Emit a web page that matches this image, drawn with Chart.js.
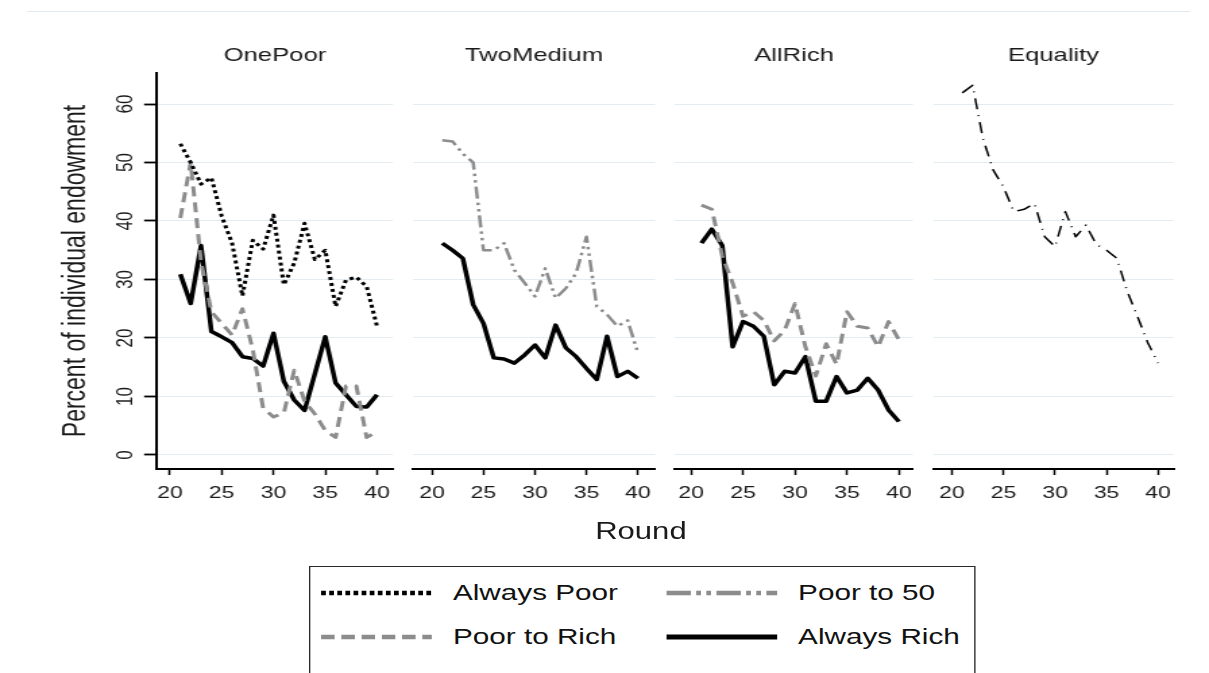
<!DOCTYPE html>
<html>
<head>
<meta charset="utf-8">
<script src="https://cdn.jsdelivr.net/npm/chart.js@4.4.1/dist/chart.umd.min.js"></script>
<style>
  html, body { margin: 0; padding: 0; background: #ffffff; overflow: hidden; width: 1209px; height: 673px; }
  #stage { position: absolute; left: 0; top: 0; width: 896px; height: 673px;
           transform: scaleX(1.3493); transform-origin: 0 0;
           font-family: "Liberation Sans", Arial, sans-serif; color: #111; }
  #stage canvas { position: absolute; top: 0; }
  #frame { position: absolute; left: 20px; top: 11px; width: 862px; height: 0; border-top: 1px solid #e0eaee; }
  #xtitle { position: absolute; left: 375px; width: 200px; top: 517px; text-align: center;
            font-size: 23px; line-height: 28px; color: #1a1a1a; }
  #legend { position: absolute; left: 229px; top: 566px; width: 494px; height: 130px;
            border: 1.5px solid #2a2a2a; box-sizing: border-box; background: #fff; }
  .item { position: absolute; height: 26px; white-space: nowrap; }
  .item svg { position: absolute; left: 0; top: 0; overflow: visible; }
  .item span { position: absolute; top: 0; font-size: 22px; line-height: 26px; color: #111; }
</style>
</head>
<body>
<div id="stage">
  <div id="frame"></div>
  <canvas id="p0"></canvas>
  <canvas id="p1"></canvas>
  <canvas id="p2"></canvas>
  <canvas id="p3"></canvas>
  <div id="xtitle">Round</div>
  <div id="legend"></div>
</div>
<script>
// ---------------- DATA ----------------
const rounds = [21, 22, 23, 24, 25, 26, 27, 28, 29, 30, 31, 32, 33, 34, 35, 36, 37, 38, 39, 40];
const xTickValues = [20, 25, 30, 35, 40];
const yTickValues = [0, 10, 20, 30, 40, 50, 60];
const panelTitles = ['OnePoor', 'TwoMedium', 'AllRich', 'Equality'];
const seriesNames = ['Always Poor', 'Poor to 50', 'Poor to Rich', 'Always Rich'];
const xAxisTitle = 'Round';
const yAxisTitle = 'Percent of individual endowment';

const onePoorAlwaysPoor = [53.2, 50.0, 46.3, 47.4, 40.8, 36.2, 27.2, 36.7, 35.2, 41.0, 29.1, 32.8, 39.6, 33.4, 35.0, 25.4, 29.9, 30.4, 28.8, 22.0];
const onePoorPoorToRich = [40.5, 50.0, 33.0, 24.5, 22.5, 20.5, 25.0, 18.0, 8.0, 6.5, 7.2, 14.5, 9.2, 7.0, 4.2, 3.0, 11.8, 11.8, 3.0, 4.0];
const onePoorAlwaysRich = [30.9, 25.9, 35.8, 21.1, 20.2, 19.2, 16.8, 16.5, 15.2, 20.8, 12.6, 9.4, 7.6, 13.9, 20.2, 12.3, 10.3, 8.3, 8.2, 10.3];

const twoMediumPoorTo50 = [53.8, 53.6, 51.5, 50.0, 35.0, 35.0, 36.2, 31.6, 29.4, 27.1, 31.9, 26.8, 28.5, 31.1, 37.3, 25.4, 24.0, 22.0, 23.0, 17.4];
const twoMediumAlwaysRich = [36.2, 35.0, 33.6, 25.7, 22.5, 16.6, 16.4, 15.7, 17.1, 18.8, 16.6, 22.2, 18.3, 16.8, 14.8, 12.9, 20.3, 13.4, 14.3, 13.1];

const allRichPoorToRich = [42.7, 42.0, 34.0, 29.4, 23.7, 24.5, 23.0, 19.5, 21.3, 25.9, 18.5, 13.5, 19.0, 15.5, 24.5, 22.0, 21.7, 18.5, 22.8, 19.7];
const allRichAlwaysRich = [36.2, 38.6, 35.8, 18.5, 22.8, 22.0, 20.3, 12.0, 14.3, 14.0, 16.8, 9.2, 9.2, 13.4, 10.6, 11.1, 13.1, 11.1, 7.7, 5.7];

const equalityAll = [61.9, 63.2, 54.1, 48.7, 45.8, 41.6, 42.0, 43.0, 37.3, 35.6, 41.6, 37.3, 39.3, 36.0, 35.0, 33.6, 28.0, 23.7, 19.2, 15.7];

// ---------------- STYLES / LAYOUT ----------------
const GRAY = '#8c8c8c';
const styles = {
  'Always Poor':  { color: '#000000', width: 3,   dash: [3, 3],                 legendDash: '3.5 2.5', legendWidth: 4.5 },
  'Poor to 50':   { color: GRAY,      width: 2.5, dash: [12, 4, 2.5, 4, 2.5, 4], legendDash: '18 4 3.5 4 3.5 4', legendWidth: 4.5 },
  'Poor to Rich': { color: GRAY,      width: 3,   dash: [10, 6],                legendDash: '10 5', legendWidth: 4.5 },
  'Always Rich':  { color: '#000000', width: 3.5, dash: [],                     legendDash: '', legendWidth: 5 },
  'Equality':     { color: '#000000', width: 1.5, dash: [11, 6, 1, 6],          legendDash: '', legendWidth: 1.5 }
};

const panelSeries = [
  [['Always Poor', onePoorAlwaysPoor], ['Poor to Rich', onePoorPoorToRich], ['Always Rich', onePoorAlwaysRich]],
  [['Poor to 50', twoMediumPoorTo50], ['Always Rich', twoMediumAlwaysRich]],
  [['Poor to Rich', allRichPoorToRich], ['Always Rich', allRichAlwaysRich]],
  [['Equality', equalityAll]]
];

// plot-area geometry (in un-stretched stage pixels)
const panelBoxes = [
  { left: 116.3, right: 291.3, xmin: 18.74, xmax: 41.55 },
  { left: 306.1, right: 485.4, xmin: 18.16, xmax: 41.65 },
  { left: 500.3, right: 676.6, xmin: 18.46, xmax: 41.35 },
  { left: 691.5, right: 870.1, xmin: 18.16, xmax: 41.55 }
];
const PLOT_BOTTOM = 469, CANVAS_H = 520;
const Y_MIN = -2.4, Y_MAX = 65.3;
const Y_LABEL_X = 92;
const FONT = '"Liberation Sans", Arial, sans-serif';
const TEXT = '#1a1a1a';
const GRID = '#e3edf1';

Chart.defaults.font.family = FONT;

// vertical (rotated) y tick labels, placed through the y scale
const rotatedYLabels = {
  id: 'rotatedYLabels',
  afterDraw(chart, args, opts) {
    if (!opts.enabled) return;
    const s = chart.scales.y;
    const ctx = chart.ctx;
    ctx.save();
    ctx.font = '17px ' + FONT;
    ctx.fillStyle = TEXT;
    ctx.textAlign = 'center';
    ctx.textBaseline = 'middle';
    s.ticks.forEach(t => {
      const y = s.getPixelForValue(t.value);
      ctx.save();
      ctx.translate(Y_LABEL_X, y);
      ctx.rotate(-Math.PI / 2);
      ctx.fillText(String(t.value), 0, 1);
      ctx.restore();
    });
    ctx.restore();
  }
};

panelBoxes.forEach((box, i) => {
  const cv = document.getElementById('p' + i);
  const first = i === 0;
  const cLeft = first ? 0 : Math.floor(box.left) - 16;
  const cWidth = Math.ceil(box.right) + 16 - cLeft;
  cv.width = cWidth; cv.height = CANVAS_H;
  cv.style.left = cLeft + 'px';
  cv.style.width = cWidth + 'px';
  cv.style.height = CANVAS_H + 'px';
  const yWidth = first ? box.left : 0;
  const padLeft = first ? 0 : box.left - cLeft;
  const padRight = cWidth - (box.right - cLeft);

  const datasets = panelSeries[i].map(([name, vals]) => {
    const st = styles[name];
    return {
      label: name,
      data: rounds.map((r, k) => ({ x: r, y: vals[k] })),
      borderColor: st.color,
      borderWidth: st.width,
      borderDash: st.dash,
      borderCapStyle: 'butt',
      borderJoinStyle: 'round',
      pointRadius: 0,
      tension: 0,
      fill: false
    };
  });

  new Chart(cv, {
    type: 'line',
    data: { datasets },
    plugins: [rotatedYLabels],
    options: {
      responsive: false,
      animation: false,
      devicePixelRatio: 1,
      layout: { padding: { left: padLeft, right: padRight, top: 0, bottom: 0 } },
      plugins: {
        legend: { display: false },
        tooltip: { enabled: false },
        rotatedYLabels: { enabled: first },
        title: {
          display: true, text: panelTitles[i], fullSize: false,
          color: TEXT, font: { size: 19, weight: 'normal', family: FONT },
          padding: { top: 44.1, bottom: 6.1 }
        }
      },
      scales: {
        x: {
          type: 'linear', position: 'bottom', min: box.xmin, max: box.xmax,
          afterBuildTicks: s => { s.ticks = xTickValues.map(v => ({ value: v })); },
          afterFit: s => { s.height = CANVAS_H - PLOT_BOTTOM; },
          grid: { drawOnChartArea: false, drawTicks: true, tickLength: 6, tickColor: '#000', tickWidth: 1.5 },
          border: { display: true, color: '#000', width: 2 },
          ticks: { color: TEXT, font: { size: 17, family: FONT }, padding: 8, minRotation: 0, maxRotation: 0, autoSkip: false }
        },
        y: {
          type: 'linear', position: 'left', min: Y_MIN, max: Y_MAX,
          afterBuildTicks: s => { s.ticks = yTickValues.map(v => ({ value: v })); },
          afterFit: s => { s.width = yWidth; },
          grid: { color: GRID, lineWidth: 1, drawTicks: first, tickLength: 9.5, tickColor: '#000', tickWidth: 1.8 },
          border: { display: first, color: '#000', width: 2 },
          ticks: { display: false },
          title: { display: first, text: yAxisTitle, color: TEXT, font: { size: 23, family: FONT },
                   padding: { top: 43, bottom: 0 } }
        }
      }
    }
  });
});

// ---------------- LEGEND ----------------
const legendLayout = [
  { name: seriesNames[0], lx: 8.2,   row: 0 },
  { name: seriesNames[1], lx: 264,   row: 0 },
  { name: seriesNames[2], lx: 8.2,   row: 1 },
  { name: seriesNames[3], lx: 264,   row: 1 }
];
const rowCenters = [26, 70];
const sampleLen = 82, textGap = 97.5;
const legend = document.getElementById('legend');
legendLayout.forEach(it => {
  const st = styles[it.name];
  const d = document.createElement('div');
  d.className = 'item';
  d.style.left = it.lx + 'px';
  d.style.top = (rowCenters[it.row] - 13) + 'px';
  d.style.width = '230px';
  const svgNS = 'http://www.w3.org/2000/svg';
  const svg = document.createElementNS(svgNS, 'svg');
  svg.setAttribute('width', sampleLen); svg.setAttribute('height', 26);
  const ln = document.createElementNS(svgNS, 'line');
  ln.setAttribute('x1', 0); ln.setAttribute('x2', sampleLen);
  ln.setAttribute('y1', 13); ln.setAttribute('y2', 13);
  ln.setAttribute('stroke', st.color);
  ln.setAttribute('stroke-width', st.legendWidth);
  if (st.legendDash) ln.setAttribute('stroke-dasharray', st.legendDash);
  svg.appendChild(ln);
  d.appendChild(svg);
  const sp = document.createElement('span');
  sp.style.left = textGap + 'px';
  sp.textContent = it.name;
  d.appendChild(sp);
  legend.appendChild(d);
});
</script>
</body>
</html>
